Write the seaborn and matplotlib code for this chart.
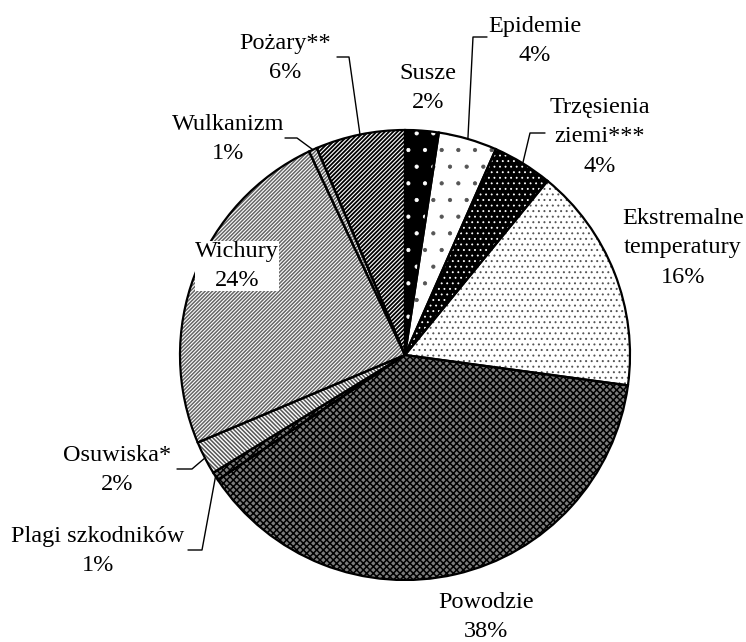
import numpy as np
import matplotlib

matplotlib.use("Agg")
import matplotlib.pyplot as plt
from matplotlib.patches import Wedge
import seaborn as sns

# data (shares in %, clockwise from 12 o'clock)
categories = ["Susze", "Epidemie", "Trzęsienia\nziemi***", "Ekstremalne\ntemperatury",
              "Powodzie", "Plagi szkodników", "Osuwiska*", "Wichury", "Wulkanizm", "Pożary**"]
shares = [2.4, 4.2, 4.3, 16.2, 38.4, 0.6, 2.4, 24.3, 0.6, 6.4]
pct_labels = ["2%", "4%", "4%", "16%", "38%", "1%", "2%", "24%", "1%", "6%"]

# fills: face colour, hatch, hatch colour, hatch line width
faces = ["black", "white", "black", "white", "#7c7c7c", "#7c7c7c", "white", "white", "white", "white"]
hatches = [".", ".", "...", "...", "xxxxx", "xxxxx", "\\" * 8, "/" * 9, "/" * 9, "/" * 8]
hatch_cols = ["white", "#555555", "white", "#555555", "black", "black", "#555555", "#666666", "#666666", "black"]
hatch_lws = [0.6, 0.6, 0.6, 0.7, 1.1, 1.1, 1.1, 1.1, 1.1, 1.3]

# label layout in pixel coords (x right, y down): text centre, optional leader elbow
W, H = 746, 642
text_pos = [(428, 88), (535, 41), (600, 137), (683, 248), (486, 617),
            (98, 551), (117, 470), (237, 266), (228, 139), (285, 58)]
leaders = {1: [(487, 37), (473, 37)], 2: [(545, 133), (530, 133)],
           5: [(188, 550), (202, 550)], 6: [(177, 469), (192, 469)],
           8: [(285, 138), (297, 138)], 9: [(337, 57), (349, 57)]}

sns.set_style("white")
plt.rcParams["font.family"] = ["Liberation Serif", "DejaVu Serif"]

fig = plt.figure(figsize=(W / 100, H / 100), dpi=100)
ax = fig.add_axes([0, 0, 1, 1])

cx, cy, r = 405, H - 355, 225

wedges, _ = ax.pie(shares, colors=faces, startangle=90, counterclock=False,
                   center=(cx, cy), radius=r, frame=True,
                   wedgeprops=dict(linewidth=0))
ax.set_xlim(0, W)
ax.set_ylim(0, H)
ax.axis("off")

for w, h, hc, hl in zip(wedges, hatches, hatch_cols, hatch_lws):
    with plt.rc_context({"hatch.linewidth": hl}):
        p = Wedge(w.center, w.r, w.theta1, w.theta2, fill=False,
                  hatch=h, edgecolor=hc, linewidth=0, zorder=2)
        if hasattr(p, "set_hatch_linewidth"):
            p.set_hatch_linewidth(hl)
        ax.add_patch(p)
for w in wedges:
    ax.add_patch(Wedge(w.center, w.r, w.theta1, w.theta2, fill=False,
                       edgecolor="black", linewidth=1.6, zorder=3))

for i, (name, pct) in enumerate(zip(categories, pct_labels)):
    tx, ty = text_pos[i]
    ax.text(tx, H - ty, f"{name}\n{pct}", ha="center", va="center",
            fontsize=17.5, linespacing=1.55, color="black", zorder=5,
            bbox=dict(facecolor="white", edgecolor="none", pad=0))
    if i in leaders:
        w = wedges[i]
        mid = np.deg2rad((w.theta1 + w.theta2) / 2)
        ex, ey = cx + r * np.cos(mid), cy + r * np.sin(mid)
        xs = [p[0] for p in leaders[i]] + [ex]
        ys = [H - p[1] for p in leaders[i]] + [ey]
        ax.plot(xs, ys, color="black", linewidth=1.0, zorder=4)

fig.savefig("out.png", dpi=100)
